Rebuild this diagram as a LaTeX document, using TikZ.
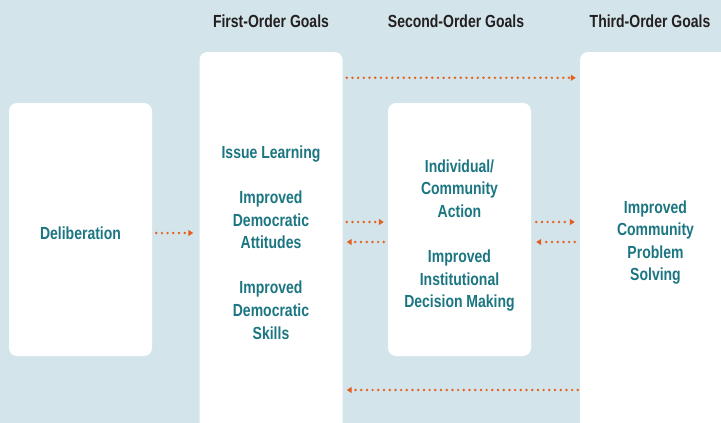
\documentclass[tikz,border=0pt]{standalone}
\usepackage{fontspec}
\setmainfont{Liberation Sans}[FakeStretch=0.8]
\usepackage{tikz}
\usetikzlibrary{positioning}
\usetikzlibrary{arrows.meta}

\definecolor{bgblue}{HTML}{D3E5EA}
\definecolor{goalteal}{HTML}{1B7682}
\definecolor{flowred}{HTML}{E5601E}
\definecolor{headgray}{HTML}{231F20}

\begin{document}
\begin{tikzpicture}[
            x = 1pt, y = -1pt, % pixel grid of the figure
            > = {Triangle[length=5pt,width=6pt]}, % arrow head style
            font = \fontsize{17.5}{22.6}\selectfont\bfseries
        ]

        \tikzstyle{goal}=[
            fill = white,
            rounded corners = 8pt,
            text = goalteal,
            align = center,
            minimum width = 143pt,
            inner sep = 0pt
        ]
        \tikzstyle{head}=[
            text = headgray,
            inner sep = 0pt
        ]
        \tikzstyle{flow}=[
            flowred,
            line width = 2.7pt,
            line cap = round,
            dash pattern = on 0pt off 5.7pt,
            ->
        ]

        \fill[bgblue] (0,0) rectangle (721,423);
        \useasboundingbox (0,0) rectangle (721,423);

        % text of the two short boxes sits a little low
        \node[goal, minimum height = 253pt] (delib) at (80.5,229.5) {\raisebox{-4pt}[\height][\depth]{Deliberation}};
        \node[goal, minimum height = 381pt] (first) at (271,242.5) {Issue Learning\\[22.6pt]
            Improved\\Democratic\\Attitudes\\[22.6pt]Improved\\Democratic\\Skills};
        \node[goal, minimum height = 253pt] (second) at (459.5,229.5) {\rule{0pt}{25pt}Individual/\\Community\\Action\\[22.6pt]
            Improved\\Institutional\\Decision Making};
        \node[goal, minimum width = 151pt, minimum height = 381pt] (third) at (655.5,242.5) {Improved\\Community\\Problem\\Solving};

        \node[head] (h1) at (271,21) {First-Order Goals};
        \node[head] (h2) at (456,21) {Second-Order Goals};
        \node[head] (h3) at (650,21) {Third-Order Goals};

        \draw[flow, shorten <= 4pt, shorten >= 6pt] ([yshift=-3.5pt]delib.east) -- ([yshift=-3.5pt]delib.east -| first.west);
        \draw[flow, shorten <= 4pt, shorten >= 4pt] ([yshift=7.5pt]second.west -| first.east) -- ([yshift=7.5pt]second.west);
        \draw[flow, shorten <= 4pt, shorten >= 4pt] ([yshift=-12.5pt]second.west) -- ([yshift=-12.5pt]second.west -| first.east);
        \draw[flow, shorten <= 5pt, shorten >= 5pt] ([yshift=7.5pt]second.east) -- ([yshift=7.5pt]second.east -| third.west);
        \draw[flow, shorten <= 5pt, shorten >= 5pt] ([yshift=-12.5pt]second.east -| third.west) -- ([yshift=-12.5pt]second.east);
        \draw[flow, shorten <= 4pt, shorten >= 4pt] ([yshift=-26pt]first.north east) -- ([yshift=-26pt]third.north west);
        \draw[flow, shorten <= 2pt, shorten >= 4pt] ([yshift=-147.5pt]third.west) -- ([yshift=-147.5pt]third.west -| first.east);

\end{tikzpicture}
\end{document}
